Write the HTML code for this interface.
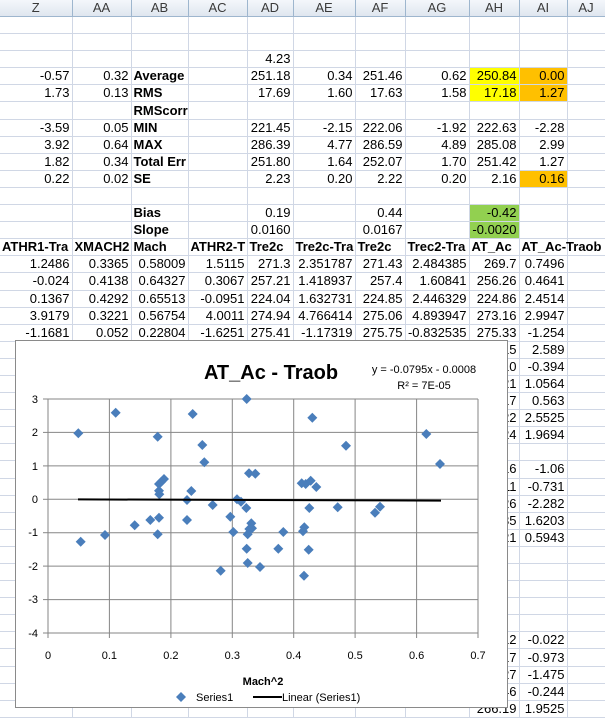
<!DOCTYPE html>
<html><head><meta charset="utf-8"><style>
body{margin:0;width:605px;height:714px;overflow:hidden;background:#fff;font-family:"Liberation Sans",Arial,sans-serif;position:relative}
table{border-collapse:collapse;table-layout:fixed;width:605px;position:absolute;left:0;top:0}
td{border-right:1px solid #d0d7e5;border-bottom:1px solid #d0d7e5;font-size:13px;height:16.1px;padding:0 2px;text-align:right;white-space:nowrap;overflow:hidden;line-height:16px;color:#000}
tr.h td{background:linear-gradient(#f4f7fb,#dfe6ef);color:#3a3a3a;text-align:center;border-color:#9eb6ce;height:16px}
td.l{text-align:left;font-weight:bold}
tr.b td{font-weight:bold;text-align:left;overflow:visible}
.y{background:#ffff00}.o{background:#ffc000}.g{background:#92d050}
svg{position:absolute;left:0;top:0}
</style></head><body>
<table>
<colgroup><col style="width:72px"><col style="width:59px"><col style="width:57px"><col style="width:59px"><col style="width:46px"><col style="width:62px"><col style="width:50px"><col style="width:64px"><col style="width:50px"><col style="width:48px"><col style="width:38px"></colgroup>
<tr class="h"><td>Z</td><td>AA</td><td>AB</td><td>AC</td><td>AD</td><td>AE</td><td>AF</td><td>AG</td><td>AH</td><td>AI</td><td>AJ</td></tr>
<tr><td></td><td></td><td></td><td></td><td></td><td></td><td></td><td></td><td></td><td></td><td></td></tr>
<tr><td></td><td></td><td></td><td></td><td></td><td></td><td></td><td></td><td></td><td></td><td></td></tr>
<tr><td></td><td></td><td></td><td></td><td>4.23</td><td></td><td></td><td></td><td></td><td></td><td></td></tr>
<tr><td>-0.57</td><td>0.32</td><td class="l">Average</td><td></td><td>251.18</td><td>0.34</td><td>251.46</td><td>0.62</td><td class="y">250.84</td><td class="o">0.00</td><td></td></tr>
<tr><td>1.73</td><td>0.13</td><td class="l">RMS</td><td></td><td>17.69</td><td>1.60</td><td>17.63</td><td>1.58</td><td class="y">17.18</td><td class="o">1.27</td><td></td></tr>
<tr><td></td><td></td><td class="l">RMScorr</td><td></td><td></td><td></td><td></td><td></td><td></td><td></td><td></td></tr>
<tr><td>-3.59</td><td>0.05</td><td class="l">MIN</td><td></td><td>221.45</td><td>-2.15</td><td>222.06</td><td>-1.92</td><td>222.63</td><td>-2.28</td><td></td></tr>
<tr><td>3.92</td><td>0.64</td><td class="l">MAX</td><td></td><td>286.39</td><td>4.77</td><td>286.59</td><td>4.89</td><td>285.08</td><td>2.99</td><td></td></tr>
<tr><td>1.82</td><td>0.34</td><td class="l">Total Err</td><td></td><td>251.80</td><td>1.64</td><td>252.07</td><td>1.70</td><td>251.42</td><td>1.27</td><td></td></tr>
<tr><td>0.22</td><td>0.02</td><td class="l">SE</td><td></td><td>2.23</td><td>0.20</td><td>2.22</td><td>0.20</td><td>2.16</td><td class="o">0.16</td><td></td></tr>
<tr><td></td><td></td><td></td><td></td><td></td><td></td><td></td><td></td><td></td><td></td><td></td></tr>
<tr><td></td><td></td><td class="l">Bias</td><td></td><td>0.19</td><td></td><td>0.44</td><td></td><td class="g">-0.42</td><td></td><td></td></tr>
<tr><td></td><td></td><td class="l">Slope</td><td></td><td>0.0160</td><td></td><td>0.0167</td><td></td><td class="g">-0.0020</td><td></td><td></td></tr>
<tr class="b"><td>ATHR1-Tra</td><td>XMACH2</td><td>Mach</td><td>ATHR2-T</td><td>Tre2c</td><td>Tre2c-Tra</td><td>Tre2c</td><td>Trec2-Tra</td><td>AT_Ac</td><td>AT_Ac-Traob</td><td></td></tr>
<tr><td>1.2486</td><td>0.3365</td><td>0.58009</td><td>1.5115</td><td>271.3</td><td>2.351787</td><td>271.43</td><td>2.484385</td><td>269.7</td><td>0.7496</td><td></td></tr>
<tr><td>-0.024</td><td>0.4138</td><td>0.64327</td><td>0.3067</td><td>257.21</td><td>1.418937</td><td>257.4</td><td>1.60841</td><td>256.26</td><td>0.4641</td><td></td></tr>
<tr><td>0.1367</td><td>0.4292</td><td>0.65513</td><td>-0.0951</td><td>224.04</td><td>1.632731</td><td>224.85</td><td>2.446329</td><td>224.86</td><td>2.4514</td><td></td></tr>
<tr><td>3.9179</td><td>0.3221</td><td>0.56754</td><td>4.0011</td><td>274.94</td><td>4.766414</td><td>275.06</td><td>4.893947</td><td>273.16</td><td>2.9947</td><td></td></tr>
<tr><td>-1.1681</td><td>0.052</td><td>0.22804</td><td>-1.6251</td><td>275.41</td><td>-1.17319</td><td>275.75</td><td>-0.832535</td><td>275.33</td><td>-1.254</td><td></td></tr>
<tr><td></td><td></td><td></td><td></td><td></td><td></td><td></td><td></td><td>270.15</td><td>2.589</td><td></td></tr>
<tr><td></td><td></td><td></td><td></td><td></td><td></td><td></td><td></td><td>260.10</td><td>-0.394</td><td></td></tr>
<tr><td></td><td></td><td></td><td></td><td></td><td></td><td></td><td></td><td>250.21</td><td>1.0564</td><td></td></tr>
<tr><td></td><td></td><td></td><td></td><td></td><td></td><td></td><td></td><td>240.17</td><td>0.563</td><td></td></tr>
<tr><td></td><td></td><td></td><td></td><td></td><td></td><td></td><td></td><td>255.22</td><td>2.5525</td><td></td></tr>
<tr><td></td><td></td><td></td><td></td><td></td><td></td><td></td><td></td><td>261.24</td><td>1.9694</td><td></td></tr>
<tr><td></td><td></td><td></td><td></td><td></td><td></td><td></td><td></td><td></td><td></td><td></td></tr>
<tr><td></td><td></td><td></td><td></td><td></td><td></td><td></td><td></td><td>245.16</td><td>-1.06</td><td></td></tr>
<tr><td></td><td></td><td></td><td></td><td></td><td></td><td></td><td></td><td>247.11</td><td>-0.731</td><td></td></tr>
<tr><td></td><td></td><td></td><td></td><td></td><td></td><td></td><td></td><td>238.26</td><td>-2.282</td><td></td></tr>
<tr><td></td><td></td><td></td><td></td><td></td><td></td><td></td><td></td><td>262.35</td><td>1.6203</td><td></td></tr>
<tr><td></td><td></td><td></td><td></td><td></td><td></td><td></td><td></td><td>258.21</td><td>0.5943</td><td></td></tr>
<tr><td></td><td></td><td></td><td></td><td></td><td></td><td></td><td></td><td></td><td></td><td></td></tr>
<tr><td></td><td></td><td></td><td></td><td></td><td></td><td></td><td></td><td></td><td></td><td></td></tr>
<tr><td></td><td></td><td></td><td></td><td></td><td></td><td></td><td></td><td></td><td></td><td></td></tr>
<tr><td></td><td></td><td></td><td></td><td></td><td></td><td></td><td></td><td></td><td></td><td></td></tr>
<tr><td></td><td></td><td></td><td></td><td></td><td></td><td></td><td></td><td></td><td></td><td></td></tr>
<tr><td></td><td></td><td></td><td></td><td></td><td></td><td></td><td></td><td>251.12</td><td>-0.022</td><td></td></tr>
<tr><td></td><td></td><td></td><td></td><td></td><td></td><td></td><td></td><td>249.17</td><td>-0.973</td><td></td></tr>
<tr><td></td><td></td><td></td><td></td><td></td><td></td><td></td><td></td><td>243.27</td><td>-1.475</td><td></td></tr>
<tr><td></td><td></td><td></td><td></td><td></td><td></td><td></td><td></td><td>252.46</td><td>-0.244</td><td></td></tr>
<tr><td></td><td></td><td></td><td></td><td></td><td></td><td></td><td></td><td>266.19</td><td>1.9525</td><td></td></tr>
</table>
<svg width="605" height="714" viewBox="0 0 605 714" font-family="Liberation Sans, Arial, sans-serif">
<defs><path id="d" d="M0,-5L5,0L0,5L-5,0Z" fill="#4a7ebb"/></defs>
<rect x="15.5" y="340.5" width="492" height="367" fill="#fff" stroke="#8a8a8a"/>
<g stroke="#868686" stroke-width="1">
<line x1="48" y1="399" x2="478" y2="399"/><line x1="48" y1="432.4" x2="478" y2="432.4"/><line x1="48" y1="465.9" x2="478" y2="465.9"/><line x1="48" y1="499.3" x2="478" y2="499.3"/><line x1="48" y1="532.7" x2="478" y2="532.7"/><line x1="48" y1="566.1" x2="478" y2="566.1"/><line x1="48" y1="599.6" x2="478" y2="599.6"/><line x1="43" y1="633" x2="478" y2="633"/>
<line x1="48" y1="399" x2="48" y2="638"/><line x1="109.4" y1="399" x2="109.4" y2="638"/><line x1="170.9" y1="399" x2="170.9" y2="638"/><line x1="232.3" y1="399" x2="232.3" y2="638"/><line x1="293.7" y1="399" x2="293.7" y2="638"/><line x1="355.1" y1="399" x2="355.1" y2="638"/><line x1="416.6" y1="399" x2="416.6" y2="638"/><line x1="478" y1="399" x2="478" y2="638"/>
<line x1="43" y1="399" x2="48" y2="399"/><line x1="43" y1="432.4" x2="48" y2="432.4"/><line x1="43" y1="465.9" x2="48" y2="465.9"/><line x1="43" y1="499.3" x2="48" y2="499.3"/><line x1="43" y1="532.7" x2="48" y2="532.7"/><line x1="43" y1="566.1" x2="48" y2="566.1"/><line x1="43" y1="599.6" x2="48" y2="599.6"/>
</g>
<g font-size="11" text-anchor="end">
<text x="38" y="403">3</text><text x="38" y="436">2</text><text x="38" y="470">1</text><text x="38" y="503">0</text><text x="38" y="536">-1</text><text x="38" y="570">-2</text><text x="38" y="603">-3</text><text x="38" y="637">-4</text>
</g>
<g font-size="11" text-anchor="middle">
<text x="48" y="659">0</text><text x="109.4" y="659">0.1</text><text x="170.9" y="659">0.2</text><text x="232.3" y="659">0.3</text><text x="293.7" y="659">0.4</text><text x="355.1" y="659">0.5</text><text x="416.6" y="659">0.6</text><text x="478" y="659">0.7</text>
</g>
<g>
<use href="#d" x="78.3" y="433.3"/><use href="#d" x="80.7" y="541.7"/><use href="#d" x="105" y="535"/><use href="#d" x="115.7" y="412.7"/><use href="#d" x="134.7" y="525.3"/><use href="#d" x="150.3" y="520"/><use href="#d" x="157.7" y="436.7"/><use href="#d" x="159" y="517.7"/><use href="#d" x="157.7" y="534.3"/><use href="#d" x="159" y="484"/><use href="#d" x="159" y="490.7"/><use href="#d" x="159.3" y="494.3"/><use href="#d" x="161.3" y="481.7"/><use href="#d" x="164" y="479"/><use href="#d" x="187" y="520"/><use href="#d" x="187" y="500"/><use href="#d" x="191.3" y="491"/><use href="#d" x="192.7" y="414"/><use href="#d" x="202.3" y="445"/><use href="#d" x="204.3" y="462.3"/><use href="#d" x="212.7" y="505"/><use href="#d" x="220.7" y="570.7"/><use href="#d" x="230.3" y="516.7"/><use href="#d" x="233.3" y="532"/><use href="#d" x="237" y="499.3"/><use href="#d" x="241" y="501.7"/><use href="#d" x="246.3" y="508"/><use href="#d" x="246.7" y="399"/><use href="#d" x="249" y="473.3"/><use href="#d" x="255.3" y="473.7"/><use href="#d" x="246.7" y="548.7"/><use href="#d" x="247.7" y="563"/><use href="#d" x="251.3" y="523.3"/><use href="#d" x="249.3" y="529"/><use href="#d" x="247.7" y="534.3"/><use href="#d" x="252" y="528.3"/><use href="#d" x="260" y="567"/><use href="#d" x="278.3" y="548.7"/><use href="#d" x="283.3" y="532"/><use href="#d" x="301.7" y="483.3"/><use href="#d" x="305.7" y="484"/><use href="#d" x="310.7" y="480.7"/><use href="#d" x="316.3" y="487"/><use href="#d" x="312.3" y="417.7"/><use href="#d" x="309.3" y="508"/><use href="#d" x="304.3" y="527.3"/><use href="#d" x="303" y="531.3"/><use href="#d" x="308.7" y="549.7"/><use href="#d" x="304" y="575.7"/><use href="#d" x="337.7" y="507.3"/><use href="#d" x="346" y="445.7"/><use href="#d" x="426.3" y="434"/><use href="#d" x="440" y="464"/><use href="#d" x="375" y="512.7"/><use href="#d" x="380" y="506.7"/>
</g>
<line x1="78" y1="499.4" x2="441" y2="500.6" stroke="#000" stroke-width="2"/>
<text x="271" y="379" font-size="20" font-weight="bold" text-anchor="middle">AT_Ac - Traob</text>
<text x="424" y="373" font-size="11" text-anchor="middle">y = -0.0795x - 0.0008</text>
<text x="424" y="389" font-size="11" text-anchor="middle">R² = 7E-05</text>
<text x="263" y="685" font-size="11" font-weight="bold" text-anchor="middle">Mach^2</text>
<use href="#d" x="181" y="697"/>
<text x="196" y="701" font-size="11">Series1</text>
<line x1="253" y1="697" x2="282" y2="697" stroke="#000" stroke-width="2"/>
<text x="282" y="701" font-size="11">Linear (Series1)</text>
</svg>
</body></html>
